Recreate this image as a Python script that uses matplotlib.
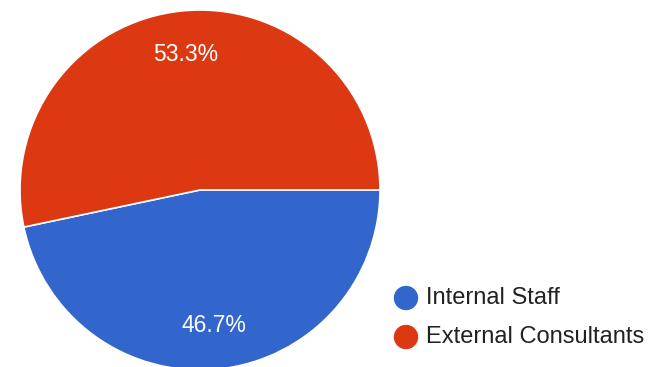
import matplotlib
matplotlib.use("Agg")
import matplotlib.pyplot as plt
from matplotlib.patches import Circle

categories = ["Internal Staff", "External Consultants"]
shares = [46.7, 53.3]
colors = ["#3366CC", "#DC3912"]

W, H = 652, 367
fig = plt.figure(figsize=(W / 100, H / 100), dpi=100)
ax = fig.add_axes([0, 0, 1, 1])

font = ["Liberation Sans", "DejaVu Sans"]

wedges, texts, autotexts = ax.pie(
    shares,
    colors=colors,
    startangle=0,
    counterclock=False,
    center=(200, H - 190),
    radius=180,
    autopct="%.1f%%",
    pctdistance=0.755,
    wedgeprops=dict(edgecolor="white", linewidth=1.2),
    textprops=dict(color="white", fontsize=16.5, family=font),
    frame=True,
)
ax.set_xlim(0, W)
ax.set_ylim(0, H)
ax.set_aspect("equal")
ax.axis("off")

# legend
for i, (name, col) in enumerate(zip(categories, colors)):
    y = H - (298 + 39 * i)
    ax.add_patch(Circle((406, y), 11.5, color=col, clip_on=False))
    ax.text(426, y, name, fontsize=17, color="#222222", family=font,
            va="center", ha="left")

fig.savefig("out.png", dpi=100)
